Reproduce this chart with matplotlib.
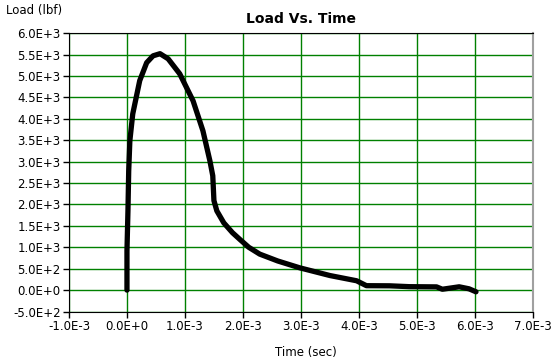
import matplotlib as mpl
mpl.use('Agg')
import matplotlib.pyplot as plt
import numpy as np

# time in ms, load in lbf
time_ms = [0.0, 0.0, 0.017, 0.03, 0.05, 0.10, 0.22, 0.34, 0.45, 0.57, 0.71, 0.91,
           1.14, 1.31, 1.43, 1.48, 1.50, 1.55, 1.67, 1.82, 1.95, 2.10, 2.29, 2.60,
           2.98, 3.50, 3.96, 4.13, 4.53, 4.87, 5.34, 5.44, 5.73, 5.90, 6.02]
load_lbf = [0, 918, 1850, 2780, 3490, 4115, 4890, 5310, 5470, 5520, 5400, 5050,
            4420, 3720, 3020, 2670, 2090, 1850, 1570, 1340, 1180, 1000, 840, 680,
            520, 340, 218, 103, 100, 80, 75, 20, 77, 30, -40]

xticks = np.arange(-1e-3, 7.01e-3, 1e-3)
yticks = np.arange(-500, 6001, 500)
xlabels = ["-1.0E-3", "0.0E+0", "1.0E-3", "2.0E-3", "3.0E-3", "4.0E-3",
           "5.0E-3", "6.0E-3", "7.0E-3"]
ylabels = ["-5.0E+2", "0.0E+0", "5.0E+2", "1.0E+3", "1.5E+3", "2.0E+3", "2.5E+3",
           "3.0E+3", "3.5E+3", "4.0E+3", "4.5E+3", "5.0E+3", "5.5E+3", "6.0E+3"]

plt.rcParams['font.family'] = ['DejaVu Sans']

fig = plt.figure(figsize=(5.51, 3.6), dpi=100)
ax = fig.add_axes([0.1252, 0.1347, 0.8418, 0.7733])

t = np.array(time_ms) * 1e-3
ax.plot(t, load_lbf, color='black', lw=3.8, solid_capstyle='round',
        solid_joinstyle='round', zorder=3)

ax.set_xlim(-1e-3, 7e-3)
ax.set_ylim(-500, 6000)
ax.set_xticks(xticks)
ax.set_xticklabels(xlabels, fontsize=8.5)
ax.set_yticks(yticks)
ax.set_yticklabels(ylabels, fontsize=8.5)
ax.tick_params(direction='out', length=4, width=1, pad=2)
ax.grid(True, color='#008000', lw=1)

for s in ['left', 'bottom', 'top']:
    ax.spines[s].set_color('black')
ax.spines['right'].set_color('#a0a0a0')
ax.spines['right'].set_linewidth(1.5)

ax.set_title("Load Vs. Time", fontsize=10, fontweight='bold', pad=7)
fig.text(0.01, 0.972, "Load (lbf)", fontsize=8.5, va='center', ha='left')
fig.text(0.555, 0.022, "Time (sec)", fontsize=8.5, va='center', ha='center')

fig.savefig("out.png", dpi=100)
